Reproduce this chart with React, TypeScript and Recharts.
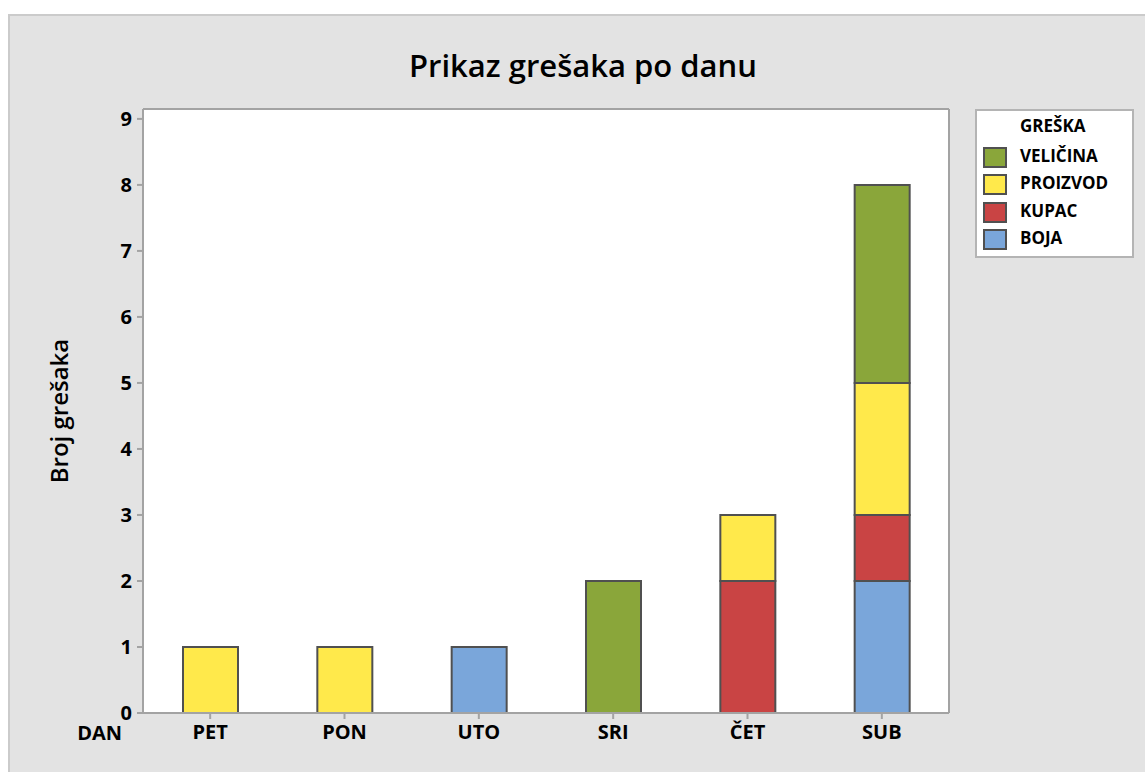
import { BarChart, Bar, XAxis, YAxis, CartesianGrid } from "recharts";

const days = ["PET", "PON", "UTO", "SRI", "ČET", "SUB"];
const boja = [0, 0, 1, 0, 0, 2];
const kupac = [0, 0, 0, 0, 2, 1];
const proizvod = [1, 1, 0, 0, 1, 2];
const velicina = [0, 0, 0, 2, 0, 3];
const yTicks = [0, 1, 2, 3, 4, 5, 6, 7, 8, 9];

// stack order bottom -> top
const series = [
  { key: "boja", name: "BOJA", color: "#7aa6da", values: boja },
  { key: "kupac", name: "KUPAC", color: "#c94444", values: kupac },
  { key: "proizvod", name: "PROIZVOD", color: "#ffe94b", values: proizvod },
  { key: "velicina", name: "VELIČINA", color: "#8aa63a", values: velicina },
];

const data = days.map((day, i) => {
  const row: Record<string, string | number> = { day };
  series.forEach((s) => (row[s.key] = s.values[i]));
  return row;
});

const FONT = "'Open Sans', 'Noto Sans', sans-serif";
const axisGray = "#a3a3a3";
const edge = "#505050";
const tickStyle = { fontSize: 20, fontWeight: 700, fill: "#000", fontFamily: FONT };

function Legendbox() {
  const items = [...series].reverse();
  return (
    <div
      style={{
        position: "absolute",
        left: 975,
        top: 109,
        width: 155,
        height: 145,
        background: "#fff",
        border: "2px solid #b4b4b4",
        fontFamily: FONT,
        fontWeight: 700,
        fontSize: 17,
        color: "#000",
      }}
    >
      <div style={{ position: "absolute", left: 43, top: 3, lineHeight: "24px" }}>GREŠKA</div>
      {items.map((s, i) => (
        <div key={s.key} style={{ position: "absolute", left: 6, top: 36 + i * 27.5, height: 20, display: "flex", alignItems: "center" }}>
          <div style={{ width: 20, height: 17, background: s.color, border: `2px solid ${edge}` }} />
          <span style={{ marginLeft: 13, lineHeight: "20px", marginTop: -3 }}>{s.name}</span>
        </div>
      ))}
    </div>
  );
}

export default function App() {
  return (
    <div style={{ position: "absolute", left: 0, top: 0, width: 1145, height: 772, background: "#fff", overflow: "hidden" }}>
      <div
        style={{
          position: "absolute",
          left: 8,
          top: 14,
          right: 0,
          bottom: 0,
          background: "#e3e3e3",
          borderLeft: "2px solid #cbcbcb",
          borderTop: "2px solid #cbcbcb",
        }}
      />
      <div
        style={{
          position: "absolute",
          left: 583,
          top: 50,
          transform: "translateX(-50%)",
          whiteSpace: "nowrap",
          fontFamily: FONT,
          fontWeight: 600,
          fontSize: 31,
          lineHeight: "31px",
          color: "#000",
        }}
      >
        Prikaz grešaka po danu
      </div>
      <div style={{ position: "absolute", left: 0, top: 0 }}>
        <BarChart width={1145} height={772} data={data} margin={{ top: 108, left: 83, right: 195, bottom: 19 }}>
          <CartesianGrid horizontal={false} vertical={false} fill="#ffffff" />
          <XAxis
            dataKey="day"
            height={40}
            stroke={axisGray}
            axisLine={{ stroke: axisGray, strokeWidth: 2 }}
            tickLine={{ stroke: axisGray, strokeWidth: 2 }}
            tickSize={6}
            tickMargin={6}
            tick={tickStyle}
            label={{
              content: (p: any) => (
                <text
                  x={p.viewBox.x - 21}
                  y={p.viewBox.y + 27}
                  textAnchor="end"
                  style={tickStyle}
                >
                  DAN
                </text>
              ),
            }}
          />
          <XAxis xAxisId="top" orientation="top" dataKey="day" height={1} tick={false} tickLine={false} axisLine={{ stroke: axisGray, strokeWidth: 2 }} />
          <YAxis
            width={60}
            domain={[0, 9.15]}
            ticks={yTicks}
            stroke={axisGray}
            axisLine={{ stroke: axisGray, strokeWidth: 2 }}
            tickLine={{ stroke: axisGray, strokeWidth: 2 }}
            tickSize={6}
            tickMargin={5}
            tick={tickStyle}
            label={{
              content: (p: any) => (
                <text
                  transform={`translate(${p.viewBox.x - 15}, ${p.viewBox.y + p.viewBox.height / 2}) rotate(-90)`}
                  textAnchor="middle"
                  style={{ fontSize: 24, fontWeight: 600, fill: "#000", fontFamily: FONT }}
                >
                  Broj grešaka
                </text>
              ),
            }}
          />
          <YAxis yAxisId="right" orientation="right" width={1} domain={[0, 9.15]} tick={false} tickLine={false} axisLine={{ stroke: axisGray, strokeWidth: 2 }} />
          {series.map((s) => (
            <Bar
              key={s.key}
              dataKey={s.key}
              name={s.name}
              stackId="a"
              fill={s.color}
              stroke={edge}
              strokeWidth={2}
              barSize={55}
              isAnimationActive={false}
            />
          ))}
        </BarChart>
      </div>
      <Legendbox />
    </div>
  );
}
